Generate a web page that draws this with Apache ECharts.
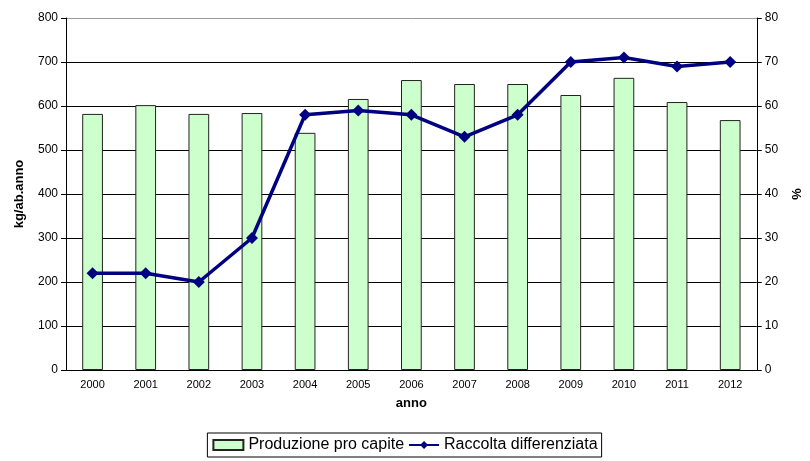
<!DOCTYPE html>
<html>
<head>
<meta charset="utf-8">
<script src="https://cdn.jsdelivr.net/npm/echarts@6/dist/echarts.min.js"></script>
<style>
  html, body { margin: 0; padding: 0; background: #fff; }
  #grafico { width: 810px; height: 461px; }
</style>
</head>
<body>
<div id="grafico"></div>
<script>
// dati
var anni = ['2000','2001','2002','2003','2004','2005','2006','2007','2008','2009','2010','2011','2012'];
var produzione = [582, 602, 582, 584, 539, 616, 659, 650, 650, 625, 664, 609, 568];
var raccolta = [22, 22, 20, 30, 58, 59, 58, 53, 58, 70, 71, 69, 70];

var font = '"Liberation Sans", Arial, sans-serif';
var chart = echarts.init(document.getElementById('grafico'));

chart.setOption({
  animation: false,
  textStyle: { fontFamily: font },
  grid: { left: 66, right: 48, top: 18, bottom: 91 },
  legend: {
    bottom: 4,
    left: 'center',
    itemGap: 4,
    itemWidth: 30,
    itemHeight: 10,
    padding: [4, 4, 4, 5],
    borderColor: '#000',
    borderWidth: 1,
    textStyle: { fontFamily: font, fontSize: 16, color: '#000' },
    data: [
      { name: 'Produzione pro capite', icon: 'rect' },
      { name: 'Raccolta differenziata' }
    ]
  },
  xAxis: {
    type: 'category',
    data: anni,
    name: 'anno',
    nameLocation: 'middle',
    nameGap: 27,
    nameTextStyle: { fontWeight: 'bold', fontSize: 13, color: '#000' },
    axisLine: { lineStyle: { color: '#000' } },
    axisTick: { lineStyle: { color: '#000' }, length: 5 },
    axisLabel: { color: '#000', fontSize: 11, margin: 9 }
  },
  yAxis: [
    {
      type: 'value',
      min: 0, max: 800, interval: 100,
      name: 'kg/ab.anno',
      nameLocation: 'middle',
      nameGap: 40,
      nameTextStyle: { fontWeight: 'bold', fontSize: 13, color: '#000' },
      axisLine: { show: true, lineStyle: { color: '#000' } },
      axisTick: { show: true, length: 5, lineStyle: { color: '#000' } },
      axisLabel: { color: '#000', fontSize: 12, margin: 8 },
      splitLine: { lineStyle: { color: ['#000','#000','#000','#000','#000','#000','#000','#000','#999'], width: 1 } }
    },
    {
      type: 'value',
      min: 0, max: 80, interval: 10,
      name: '%',
      nameLocation: 'middle',
      nameGap: 32,
      nameRotate: -90,
      nameTextStyle: { fontWeight: 'bold', fontSize: 13, color: '#000' },
      axisLine: { show: true, lineStyle: { color: '#000' } },
      axisTick: { show: true, length: 5, lineStyle: { color: '#000' } },
      axisLabel: { color: '#000', fontSize: 12, margin: 8 },
      splitLine: { show: false }
    }
  ],
  series: [
    {
      name: 'Produzione pro capite',
      type: 'bar',
      yAxisIndex: 0,
      data: produzione,
      barWidth: '39%',
      itemStyle: { color: '#ccffcc', borderColor: '#222', borderWidth: 1 }
    },
    {
      name: 'Raccolta differenziata',
      type: 'line',
      yAxisIndex: 1,
      data: raccolta,
      symbol: 'diamond',
      symbolSize: 12,
      lineStyle: { color: '#000080', width: 3.5 },
      itemStyle: { color: '#000080' }
    }
  ]
});
</script>
</body>
</html>
